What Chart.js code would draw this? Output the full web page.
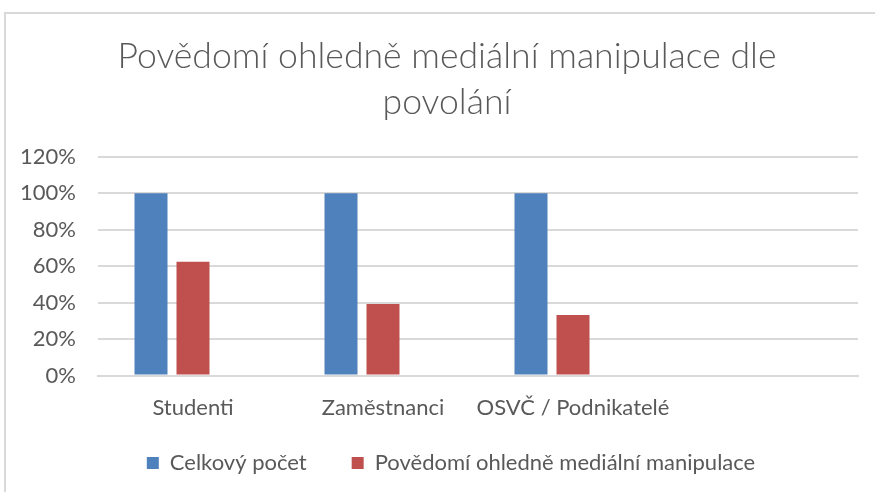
<!DOCTYPE html>
<html>
<head>
<meta charset="utf-8">
<script src="https://cdn.jsdelivr.net/npm/chart.js@4"></script>
<style>
  html, body { margin: 0; padding: 0; background: #ffffff; }
  #frame { position: absolute; left: 4px; top: 12px; width: 880px; height: 500px;
           border-top: 2px solid #d9d9d9; border-left: 2px solid #d9d9d9; }
  #wrap { position: absolute; left: 0; top: 0; width: 875px; height: 492px; }
</style>
</head>
<body>
<div id="frame"></div>
<div id="wrap"><canvas id="chart"></canvas></div>
<script>
// Chart text
var chartTitle = ["Povědomí ohledně mediální manipulace dle", "povolání"];
var categories = ["Studenti", "Zaměstnanci", "OSVČ / Podnikatelé", ""];
var seriesNames = ["Celkový počet", "Povědomí ohledně mediální manipulace", ""];

// Values (share of respondents)
var celkovyPocet = [1.00, 1.00, 1.00, null];
var povedomi = [0.625, 0.393, 0.333, null];
var empty = [null, null, null, null];

// Colours
var blue = "#4f81bd";
var red = "#c0504d";
var textColor = "#595959";
var gridColor = "#d9d9d9";
var fontName = "Lato, 'Open Sans', sans-serif";

// Title and legend sit centred on the whole frame, not on the plot
var shiftBlocks = {
    id: 'shiftBlocks',
    afterLayout: function(chart) {
        if (chart.titleBlock) {
            chart.titleBlock.left += 18;
            chart.titleBlock.right += 18;
        }
        if (chart.legend) {
            chart.legend.left += 22;
            chart.legend.right += 22;
        }
    }
};

var ctx = document.getElementById('chart');

new Chart(ctx, {
    type: 'bar',
    data: {
        labels: categories,
        datasets: [
            {label: seriesNames[0], data: celkovyPocet, backgroundColor: blue},
            {label: seriesNames[1], data: povedomi, backgroundColor: red},
            {label: seriesNames[2], data: empty, backgroundColor: "#9bbb59"}
        ]
    },
    plugins: [shiftBlocks],
    options: {
        responsive: true,
        maintainAspectRatio: false,
        animation: false,
        layout: { padding: { left: 0, right: 17, top: 34, bottom: 8 } },
        datasets: {
            bar: { categoryPercentage: 0.663, barPercentage: 0.786 }
        },
        plugins: {
            title: {
                display: true,
                text: chartTitle,
                color: textColor,
                font: { family: fontName, size: 35.6, weight: 300, lineHeight: 1.29 },
                padding: { top: 0, bottom: 31 }
            },
            legend: {
                position: 'bottom',
                labels: {
                    color: textColor,
                    font: { family: fontName, size: 22 },
                    boxWidth: 12,
                    boxHeight: 12,
                    padding: 12,
                    generateLabels: function(chart) {
                        var items = Chart.defaults.plugins.legend.labels.generateLabels(chart);
                        items = items.filter(function(item) { return item.text !== ""; });
                        // wider gap between the two entries, like the original
                        for (var i = 0; i < items.length - 1; i++) {
                            items[i].text = items[i].text + "\u2003\u2003";
                        }
                        return items;
                    }
                }
            },
            tooltip: { enabled: false }
        },
        scales: {
            x: {
                grid: { display: false, drawTicks: false },
                border: { color: gridColor, width: 2 },
                ticks: {
                    color: textColor,
                    font: { family: fontName, size: 22 },
                    padding: 19,
                    maxRotation: 0,
                    autoSkip: false
                }
            },
            y: {
                min: 0,
                max: 1.2,
                grid: { color: gridColor, lineWidth: 2, drawTicks: false },
                border: { display: false },
                ticks: {
                    stepSize: 0.2,
                    color: textColor,
                    font: { family: fontName, size: 22 },
                    padding: 22,
                    callback: function(v) { return Math.round(v * 100) + '%'; }
                },
                afterFit: function(scale) { scale.width = 98; }
            }
        }
    }
});
</script>
</body>
</html>
